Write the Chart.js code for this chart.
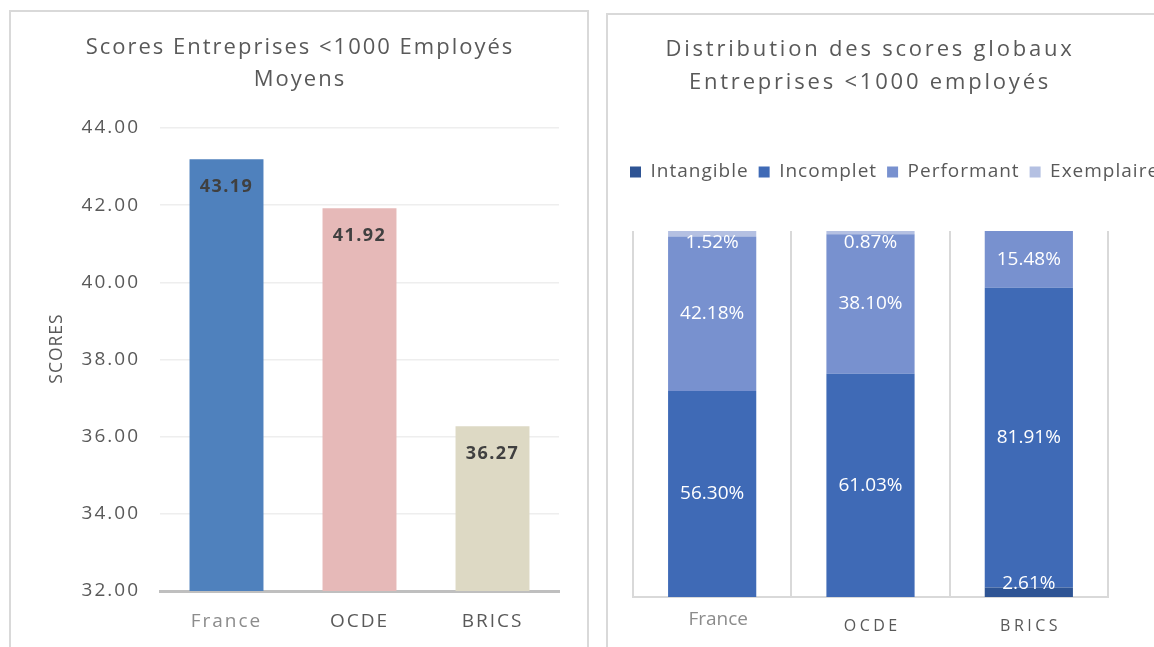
<!DOCTYPE html>
<html><head><meta charset="utf-8">
<script src="https://cdn.jsdelivr.net/npm/chart.js@4"></script>
<style>
html,body{margin:0;padding:0;background:#fff;width:1154px;height:647px;overflow:hidden;font-family:"Open Sans",sans-serif}
.panel{position:absolute;border:2px solid #D9D9D9;box-sizing:border-box;background:#fff;overflow:hidden}
#p1{left:9px;top:10px;width:580px;height:660px}
#p2{left:606px;top:13px;width:580px;height:660px}
.cw{position:absolute;left:0;top:0}
</style></head><body>
<div class="panel" id="p1"><div class="cw" style="width:576px;height:635px"><canvas id="c1"></canvas></div></div>
<div class="panel" id="p2"><div class="cw" style="width:546px;height:632px"><canvas id="c2"></canvas></div></div>
<script>
// ---- data ----
const categories = ['France', 'OCDE', 'BRICS'];
const meanScores = [43.19, 41.92, 36.27];
const scoreTicks = [32, 34, 36, 38, 40, 42, 44];
const segmentNames = ['Intangible', 'Incomplet', 'Performant', 'Exemplaire'];
const intangible = [0, 0, 2.61];
const incomplet = [56.30, 61.03, 81.91];
const performant = [42.18, 38.10, 15.48];
const exemplaire = [1.52, 0.87, 0];

Chart.defaults.font.family = '"Open Sans", sans-serif';
Chart.defaults.color = '#595959';

// ---- left chart ----
const leftLabels = {
  id: 'leftLabels',
  beforeDraw(chart) {
    chart.ctx.letterSpacing = '2px';
    const ys = chart.scales.y;
    if (ys && !ys._patched) {
      const dt = ys.drawTitle;
      ys.drawTitle = function (a) {
        const c = this.ctx;
        c.save();
        c.letterSpacing = '1px';
        c.translate(0, -11);
        dt.call(this, a);
        c.restore();
      };
      ys._patched = true;
    }
  },
  afterDatasetsDraw(chart) {
    const ctx = chart.ctx;
    const meta = chart.getDatasetMeta(0);
    ctx.save();
    ctx.letterSpacing = '1.4px';
    ctx.font = 'bold 18px "Open Sans"';
    ctx.fillStyle = '#404040';
    ctx.textAlign = 'center';
    ctx.textBaseline = 'middle';
    meta.data.forEach((bar, i) => {
      ctx.fillText(meanScores[i].toFixed(2), bar.x, bar.y + 28);
    });
    ctx.restore();
  }
};

new Chart(document.getElementById('c1'), {
  type: 'bar',
  data: {
    labels: categories,
    datasets: [{
      data: meanScores,
      backgroundColor: ['#4F81BD', '#E6B9B8', '#DDD9C4'],
      barPercentage: 0.556,
      categoryPercentage: 1
    }]
  },
  options: {
    responsive: true, maintainAspectRatio: false, animation: false,
    layout: { padding: { left: 30, right: 28, top: 0, bottom: 0 } },
    plugins: {
      legend: { display: false },
      tooltip: { enabled: false },
      title: {
        display: true,
        text: ['Scores Entreprises <1000 Employés', 'Moyens'],
        color: '#595959',
        font: { size: 22, weight: 'normal', lineHeight: 1.45 },
        padding: { top: 20, bottom: 32.2 }
      }
    },
    scales: {
      x: {
        grid: { display: false },
        border: { color: '#BFBFBF', width: 3 },
        ticks: { color: c => c.index === 0 ? '#8C8C8C' : '#595959', font: { size: 19 }, padding: 11 },
        afterFit: s => { s.height = 56; }
      },
      y: {
        min: 32, max: 44,
        afterBuildTicks: s => { s.ticks = scoreTicks.map(v => ({ value: v })); },
        ticks: { callback: v => Number(v).toFixed(2), color: '#595959', font: { size: 19 }, padding: 20 },
        grid: { color: '#EEEEEE', lineWidth: 1.5, drawTicks: false },
        border: { display: false },
        title: { display: true, text: 'SCORES', color: '#595959', font: { size: 17.5 }, padding: { top: 6, bottom: 0 } },
        afterFit: s => { s.width = 119; }
      }
    }
  },
  plugins: [leftLabels]
});

// ---- right chart ----
const rightTweaks = {
  id: 'rightTweaks',
  beforeLayout(chart) {
    const lg = chart.legend;
    if (lg && !lg._patched) {
      const fit = lg.fit;
      lg.fit = function () {
        const mw = this.maxWidth;
        this.maxWidth = 3000;
        fit.call(this);
        this.maxWidth = mw;
        this.width = mw;
        this.height += 39.5;
      };
      const ld = lg.draw;
      lg.draw = function (a) {
        const c = this.ctx;
        c.save();
        c.letterSpacing = '1px';
        ld.call(this, a);
        c.restore();
      };
      lg._patched = true;
    }
    const tb = chart.titleBlock;
    if (tb && !tb._patched) {
      const d = tb.draw;
      tb.draw = function (a) {
        const c = this.ctx;
        c.save();
        c.letterSpacing = '2.8px';
        c.translate(6, 0);
        d.call(this, a);
        c.restore();
      };
      tb._patched = true;
    }
  },
  beforeDraw(chart) {
    if (chart.legend) chart.legend.right = 3000;
  },
  afterDatasetsDraw(chart) {
    const ctx = chart.ctx;
    const area = chart.chartArea;
    ctx.save();
    ctx.font = '19px "Open Sans"';
    ctx.fillStyle = '#FFFFFF';
    ctx.textAlign = 'center';
    ctx.textBaseline = 'middle';
    chart.data.datasets.forEach((ds, di) => {
      const meta = chart.getDatasetMeta(di);
      meta.data.forEach((bar, i) => {
        const v = ds.data[i];
        if (!v) return;
        let y = (bar.y + bar.base) / 2;
        y = Math.max(area.top + 12, Math.min(area.bottom - 13, y));
        ctx.fillText(v.toFixed(2) + '%', bar.x, y);
      });
    });
    ctx.restore();
  },
  afterDraw(chart) {
    const ctx = chart.ctx;
    const xs = chart.scales.x;
    ctx.save();
    ctx.textAlign = 'center';
    ctx.textBaseline = 'middle';
    categories.forEach((c, i) => {
      const x = xs.getPixelForValue(i);
      if (i === 0) {
        ctx.font = '19px "Open Sans"';
        ctx.fillStyle = '#8C8C8C';
        ctx.letterSpacing = '0px';
        ctx.fillText(c, x + 6, xs.top + 23);
      } else {
        ctx.font = '16px "Open Sans"';
        ctx.fillStyle = '#595959';
        ctx.letterSpacing = '3.5px';
        ctx.fillText(c, x + 1.75, xs.top + 29);
      }
    });
    ctx.restore();
  }
};

new Chart(document.getElementById('c2'), {
  type: 'bar',
  data: {
    labels: categories,
    datasets: [
      { label: segmentNames[0], data: intangible, backgroundColor: '#2E5494' },
      { label: segmentNames[1], data: incomplet, backgroundColor: '#3F6AB6' },
      { label: segmentNames[2], data: performant, backgroundColor: '#7891CF' },
      { label: segmentNames[3], data: exemplaire, backgroundColor: '#B4C0E2' }
    ]
  },
  options: {
    responsive: true, maintainAspectRatio: false, animation: false,
    datasets: { bar: { barPercentage: 0.557, categoryPercentage: 1 } },
    layout: { padding: { left: 12, right: 46, top: 0, bottom: 0 } },
    plugins: {
      tooltip: { enabled: false },
      title: {
        display: true,
        text: ['Distribution des scores globaux', 'Entreprises <1000 employés'],
        color: '#595959',
        font: { size: 22, weight: 'normal', lineHeight: 1.5 },
        padding: { top: 18, bottom: 53.5 }
      },
      legend: {
        display: true, position: 'top', align: 'start',
        labels: { boxWidth: 11, boxHeight: 11, color: '#595959', font: { size: 19 }, padding: 10 }
      }
    },
    scales: {
      x: {
        stacked: true,
        grid: { color: '#D9D9D9', lineWidth: 2, offset: true, drawTicks: false },
        border: { color: '#D9D9D9', width: 2 },
        ticks: { display: false },
        afterFit: s => { s.height = 50; }
      },
      y: {
        stacked: true, min: 0, max: 100,
        ticks: { display: false },
        grid: { display: false },
        border: { display: false },
        afterFit: s => { s.width = 13; }
      }
    }
  },
  plugins: [rightTweaks]
});
</script>
</body></html>
